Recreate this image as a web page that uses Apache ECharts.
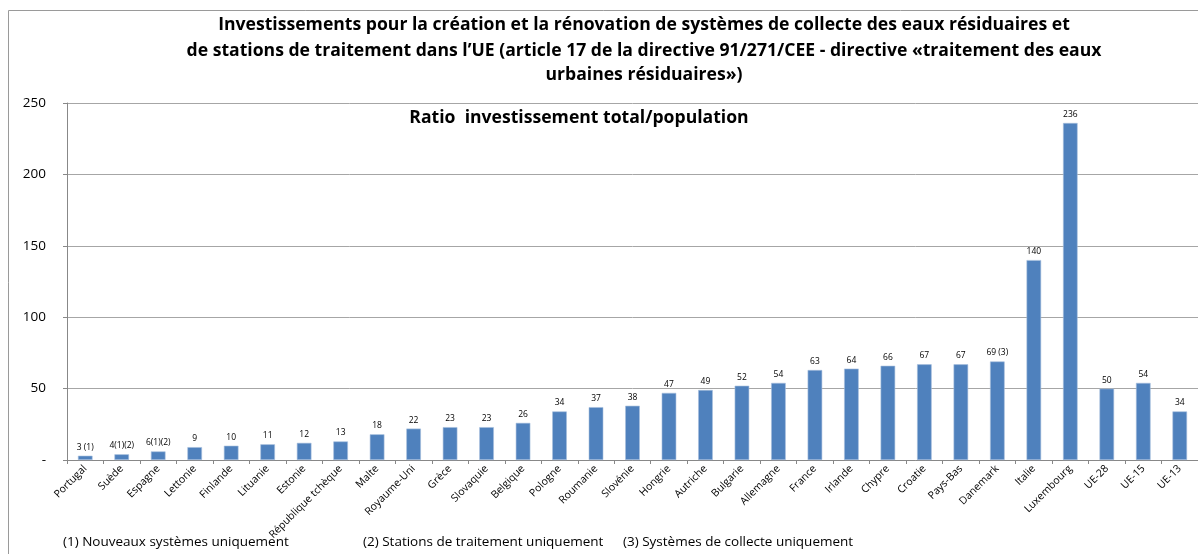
<!DOCTYPE html>
<html>
<head>
<meta charset="utf-8">
<script src="https://cdn.jsdelivr.net/npm/echarts@6/dist/echarts.min.js"></script>
<style>html,body{margin:0;padding:0;background:#fff}#c{width:1198px;height:554px}</style>
</head>
<body>
<div id="c"></div>
<script>
var categories = ['Portugal','Suède','Espagne','Lettonie','Finlande','Lituanie','Estonie','République tchèque','Malte','Royaume-Uni','Grèce','Slovaquie','Belgique','Pologne','Roumanie','Slovénie','Hongrie','Autriche','Bulgarie','Allemagne','France','Irlande','Chypre','Croatie','Pays-Bas','Danemark','Italie','Luxembourg','UE-28','UE-15','UE-13'];
var values = [3,4,6,9,10,11,12,13,18,22,23,23,26,34,37,38,47,49,52,54,63,64,66,67,67,69,140,236,50,54,34];
var valueLabels = ['3 (1)','4(1)(2)','6(1)(2)','9','10','11','12','13','18','22','23','23','26','34','37','38','47','49','52','54','63','64','66','67','67','69 (3)','140','236','50','54','34'];
var titleLines = ['Investissements pour la création et la rénovation de systèmes de collecte des eaux résiduaires et','de stations de traitement dans l\u2019UE (article 17 de la directive 91/271/CEE - directive «traitement des eaux','urbaines résiduaires»)'];
var subtitle = 'Ratio  investissement total/population';
var footnotes = ['(1) Nouveaux systèmes uniquement','(2) Stations de traitement uniquement','(3) Systèmes de collecte uniquement'];

var FONT = 'Open Sans';
var chart = echarts.init(document.getElementById('c'));
var titles = [];
var ty = [11, 37, 61];
titleLines.forEach(function(t,i){
  titles.push({text:t,left:639,top:ty[i],textAlign:'center',textStyle:{fontFamily:FONT,fontWeight:'bold',fontSize:17.6,color:'#000'}});
});
titles.push({text:subtitle,left:574,top:104,textAlign:'center',textStyle:{fontFamily:FONT,fontWeight:'bold',fontSize:17.6,color:'#000'}});
var fx = [58, 358, 618];
footnotes.forEach(function(t,i){
  titles.push({text:t,left:fx[i],top:530,textStyle:{fontFamily:FONT,fontWeight:'normal',fontSize:13.5,color:'#000'}});
});

chart.setOption({
  animation:false,
  title:titles,
  graphic:[
    {type:'line',shape:{x1:8.5,y1:10.5,x2:1198,y2:10.5},style:{stroke:'#9a9a9a',lineWidth:1}},
    {type:'line',shape:{x1:8.5,y1:10.5,x2:8.5,y2:554},style:{stroke:'#9a9a9a',lineWidth:1}}
  ],
  grid:{left:67,right:0,top:103,bottom:94},
  xAxis:{
    type:'category',data:categories,
    axisLine:{lineStyle:{color:'#888'}},
    axisTick:{show:true,alignWithLabel:false,length:4,lineStyle:{color:'#888'}},
    axisLabel:{rotate:45,interval:0,fontFamily:FONT,fontSize:10.5,color:'#000',margin:7}
  },
  yAxis:{
    type:'value',min:0,max:250,interval:50,
    axisLine:{show:true,lineStyle:{color:'#888'}},
    axisTick:{show:true,length:4,lineStyle:{color:'#888'}},
    splitLine:{lineStyle:{color:'#a6a6a6'}},
    axisLabel:{fontFamily:FONT,fontSize:13.5,color:'#000',margin:21,formatter:function(v){return v===0?'-':String(v);}}
  },
  series:[{
    type:'bar',data:values,barWidth:'40%',
    itemStyle:{color:'#4F81BD',borderColor:'#A7C0DE',borderWidth:0.6},
    label:{show:true,position:'top',distance:4,fontFamily:FONT,fontSize:8.5,color:'#000',
      formatter:function(p){return valueLabels[p.dataIndex];}}
  }]
});
</script>
</body>
</html>
